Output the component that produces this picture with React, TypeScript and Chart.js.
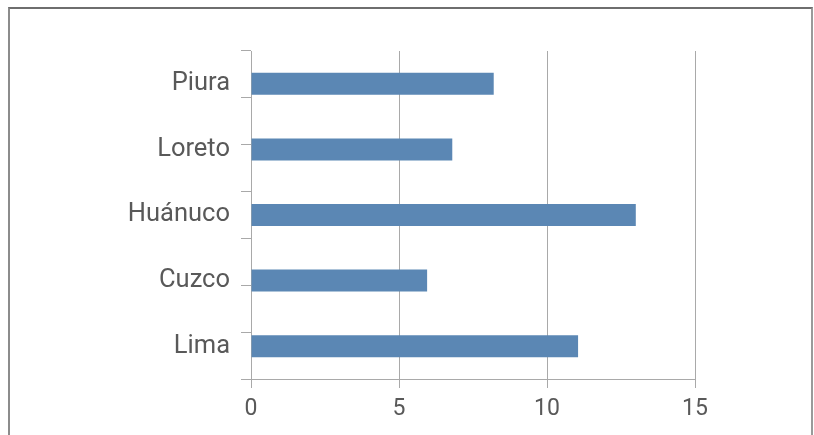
import React, { useEffect, useRef } from "react";
import { Chart, registerables } from "chart.js";

Chart.register(...registerables);

const categories: string[] = ["Piura", "Loreto", "Huánuco", "Cuzco", "Lima"];
const values: number[] = [8.2, 6.8, 13.0, 5.95, 11.05];
const xTicks: number[] = [0, 5, 10, 15];

const GRID = "#a9a9a9";
const TEXT = "#595959";
const BAR = "#5b87b4";

export default function App() {
  const ref = useRef<HTMLCanvasElement | null>(null);

  useEffect(() => {
    document.documentElement.style.overflow = "hidden";
    document.body.style.overflow = "hidden";
    if (!ref.current) return;
    const chart = new Chart(ref.current, {
      type: "bar",
      data: {
        labels: categories,
        datasets: [
          {
            data: values,
            backgroundColor: BAR,
            borderWidth: 0,
            categoryPercentage: 1,
            barPercentage: 0.335,
            xAxisID: "x",
            yAxisID: "y",
          },
        ],
      },
      options: {
        indexAxis: "y",
        animation: false,
        responsive: true,
        maintainAspectRatio: false,
        layout: { padding: { top: 41, right: 117, bottom: 0, left: 0 } },
        plugins: { legend: { display: false }, tooltip: { enabled: false } },
        scales: {
          x: {
            type: "linear",
            position: "bottom",
            min: xTicks[0],
            max: xTicks[xTicks.length - 1],
            afterBuildTicks: (scale: any) => {
              scale.ticks = xTicks.map((v) => ({ value: v }));
            },
            afterFit: (scale: any) => {
              scale.height = 56;
            },
            ticks: {
              color: TEXT,
              font: { family: "Roboto", size: 23 },
              padding: 7,
              maxRotation: 0,
            },
            grid: {
              color: GRID,
              lineWidth: 1,
              drawTicks: true,
              tickLength: 9,
            },
            border: { display: true, color: GRID, width: 1 },
          },
          y: {
            type: "category",
            position: "left",
            weight: 1,
            afterFit: (scale: any) => {
              scale.width = 231;
            },
            ticks: {
              color: TEXT,
              font: { family: "Roboto", size: 25.5 },
              padding: 11,
            },
            grid: { display: false, drawTicks: false, tickLength: 0 },
            border: { display: false },
          },
          yt: {
            type: "linear",
            position: "left",
            weight: 0,
            min: 0,
            max: 6,
            ticks: { display: false, stepSize: 1 },
            grid: {
              drawOnChartArea: false,
              drawTicks: true,
              tickLength: 10,
              color: GRID,
            },
            border: { display: true, color: GRID, width: 1 },
          },
        },
      },
    } as any);
    return () => chart.destroy();
  }, []);

  return (
    <div>
      <div
        style={{
          position: "absolute",
          left: 8,
          top: 7,
          width: 805,
          height: 500,
          boxSizing: "border-box",
          borderTop: "2px solid #6e6e6e",
          borderLeft: "2px solid #8c8c8c",
          borderRight: "2px solid #9a9a9a",
          background: "#ffffff",
        }}
      />
      <div
        style={{
          position: "absolute",
          left: 10,
          top: 10,
          width: 802,
          height: 425,
        }}
      >
        <canvas ref={ref} />
      </div>
    </div>
  );
}
